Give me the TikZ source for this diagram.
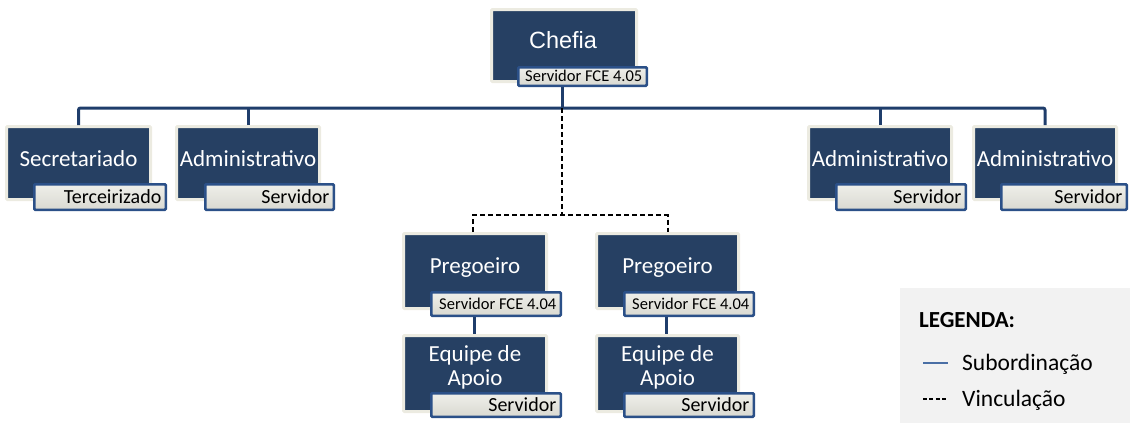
\documentclass[tikz,border=0pt]{standalone}
\usepackage{fontspec}
\setmainfont{Carlito}
\newfontfamily\headfont{Liberation Sans}
\usetikzlibrary{calc}

\definecolor{boxblue}{HTML}{264063}
\definecolor{boxrim}{HTML}{ECEBE1}
\definecolor{linkblue}{HTML}{1F3D6B}
\definecolor{tagrim}{HTML}{2B5088}
\definecolor{tagtop}{HTML}{EFEFEA}
\definecolor{tagbot}{HTML}{D9D9D1}
\definecolor{legendbg}{HTML}{F2F2F2}
\definecolor{legendline}{HTML}{4A6FA5}

% dark unit box: [baseline offset of last title line], name, x1, y1, x2, y2 (inner dark area), title
\newcommand\orgunit[7][38]{%
  \node[orgbox, minimum width={#5-#3+3}, minimum height={#6-#4+3}]
    (#2) at ({(#3+#5)/2},{(#4+#6)/2}) {};
  \node[unittitle, anchor=base] (#2-title) at ({(#3+#5)/2},{#4+#1}) {#7};
}
% tag box overlapping a unit: name, x1, y1, x2, y2 (outer edge), font size, text
\newcommand\orgtag[7]{%
  \node[tag, minimum width={#4-#2-2.5}, minimum height={#5-#3-2.5}]
    (#1) at ({(#2+#4)/2},{(#3+#5)/2}) {};
  \node[tagtext, font=\fontsize{#6}{#6}\selectfont, anchor=base east]
    (#1-text) at ({#4-5.5},{(#3+#5)/2+0.33*#6}) {#7};
}

\begin{document}
\begin{tikzpicture}[x=1pt,y=-1pt,
  orgbox/.style={fill=boxblue, draw=boxrim, line width=3pt, rounded corners=1pt, inner sep=0pt},
  unittitle/.style={text=white, font=\fontsize{23}{24}\selectfont, align=center, inner sep=0pt},
  tag/.style={draw=tagrim, line width=2.5pt, top color=tagtop, bottom color=tagbot, rounded corners=1pt, inner sep=0pt},
  tagtext/.style={text=black, inner sep=0pt},
  sub/.style={draw=linkblue, line width=3pt},
  vinc/.style={draw=black, line width=2pt, dash pattern=on 5pt off 3pt},
  legtext/.style={text=black, font=\fontsize{23.5}{24}\selectfont, inner sep=0pt, anchor=base west},
]
\useasboundingbox (0,0) rectangle (1130,423);

% ---- units ----
\node[orgbox, minimum width=145, minimum height=72] (chefia) at (564,45.5) {};
\node[unittitle, font=\headfont\fontsize{23.5}{24}\selectfont, anchor=base] (chefia-title) at (563,48) {Chefia};

\orgunit{sec}{8}{128}{149}{198}{Secretariado}
\orgunit{adm1}{178}{128}{318}{198}{Administrativo}
\orgunit{adm3}{810}{128}{950}{198}{Administrativo}
\orgunit{adm4}{975}{128}{1115}{198}{Administrativo}
\orgunit{preg1}{405}{235}{545}{307}{Pregoeiro}
\orgunit{preg2}{598}{235}{737}{307}{Pregoeiro}
\orgunit[48]{equ1}{405}{337}{545}{410}{Equipe de\\Apoio}
\orgunit[48]{equ2}{598}{337}{737}{410}{Equipe de\\Apoio}

% ---- connectors ----
\coordinate (bus) at (562,108);
\coordinate (fork) at (562,215);
\draw[sub] ([xshift=-2pt]chefia.south) -- (bus);
\draw[sub, rounded corners=2pt] (sec.north) |- (bus) -| (adm4.north);
\draw[sub] (adm1.north) -- (adm1.north |- bus);
\draw[sub] (adm3.north) -- (adm3.north |- bus);
\draw[vinc] (bus) -- (fork);
\draw[vinc] ([xshift=-2pt]preg1.north) |- (fork) -| (preg2.north);
\draw[sub] ([xshift=-1pt]preg1.south) -- ([xshift=-1pt]equ1.north);
\draw[sub] ([xshift=-1pt]preg2.south) -- ([xshift=-1pt]equ2.north);

% ---- tags ----
\orgtag{chefia-tag}{517}{66}{648}{87}{16.5}{Servidor FCE 4.05}
\orgtag{sec-tag}{33}{183}{167}{211}{20}{Terceirizado}
\orgtag{adm1-tag}{204}{183}{335}{211}{20}{Servidor}
\orgtag{adm3-tag}{835}{183}{967}{211}{20}{Servidor}
\orgtag{adm4-tag}{1000}{183}{1128}{211}{20}{Servidor}
\orgtag{preg1-tag}{430}{291}{562}{317}{16.5}{Servidor FCE 4.04}
\orgtag{preg2-tag}{623}{291}{755}{317}{16.5}{Servidor FCE 4.04}
\orgtag{equ1-tag}{430}{392}{562}{418}{20}{Servidor}
\orgtag{equ2-tag}{623}{392}{755}{418}{20}{Servidor}

% ---- legend ----
\node[fill=legendbg, inner sep=0pt, minimum width=230, minimum height=135, anchor=north west] (legend) at (900,288) {};
\node[legtext, font=\bfseries\fontsize{23}{24}\selectfont] (leg-title) at (919,327) {LEGENDA:};
\node[legtext] (leg-sub) at (962,370) {Subordinação};
\node[legtext] (leg-vinc) at (962,406) {Vinculação};
\coordinate (ls1) at (923,363);
\coordinate (ls2) at (948,363);
\coordinate (lv1) at (923,399);
\coordinate (lv2) at (948,399);
\draw[draw=legendline, line width=1.8pt] (ls1) -- (ls2);
\draw[draw=black, line width=1.6pt, dash pattern=on 4pt off 2.4pt] (lv1) -- (lv2);
\end{tikzpicture}
\end{document}
